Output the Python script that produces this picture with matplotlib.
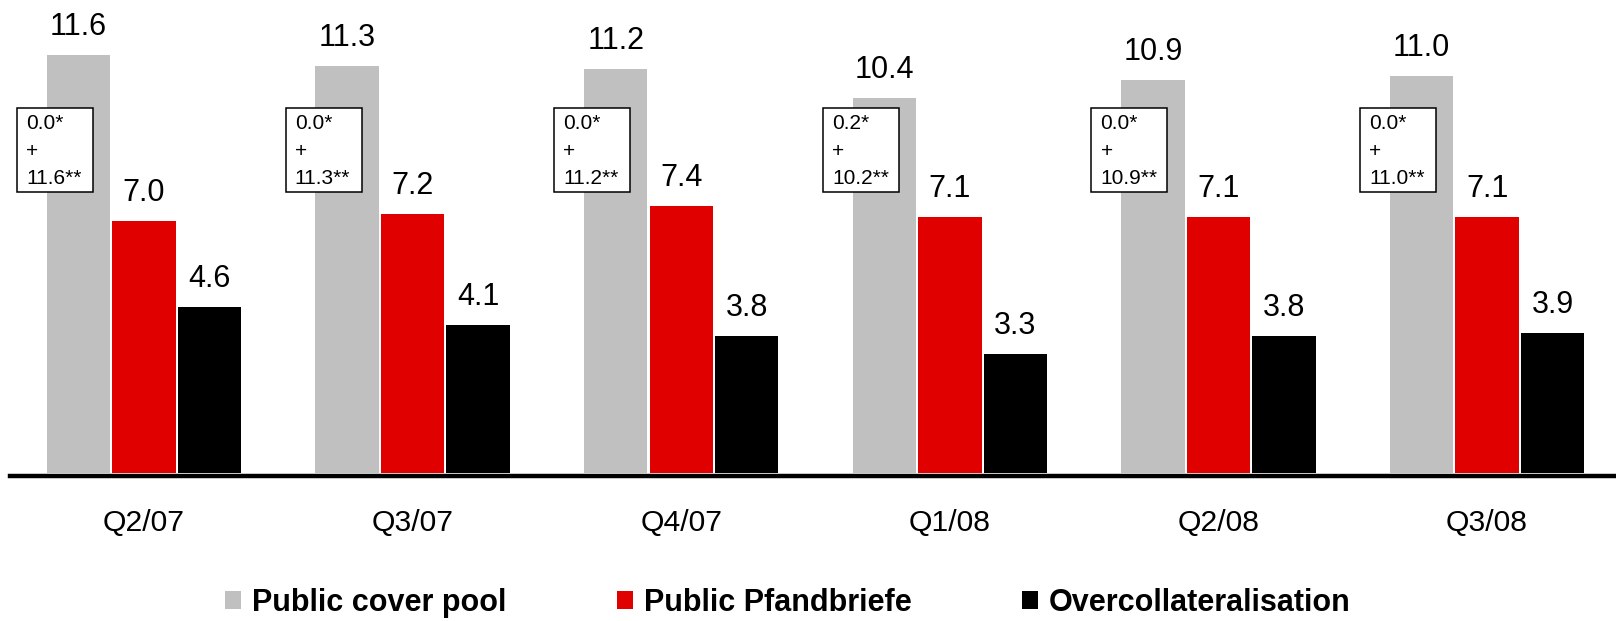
import matplotlib.pyplot as plt
import numpy as np
from matplotlib.patches import Rectangle, Patch

plt.rcParams['font.family'] = ['Liberation Sans', 'DejaVu Sans']

quarters = ['Q2/07', 'Q3/07', 'Q4/07', 'Q1/08', 'Q2/08', 'Q3/08']
cover_pool = [11.6, 11.3, 11.2, 10.4, 10.9, 11.0]
pfandbriefe = [7.0, 7.2, 7.4, 7.1, 7.1, 7.1]
overcollat = [4.6, 4.1, 3.8, 3.3, 3.8, 3.9]
star_vals = [0.0, 0.0, 0.0, 0.2, 0.0, 0.0]
dstar_vals = [11.6, 11.3, 11.2, 10.2, 10.9, 11.0]

series = ['Public cover pool', 'Public Pfandbriefe', 'Overcollateralisation']
colors = ['#C0C0C0', '#E10000', '#000000']

fig = plt.figure(figsize=(16.16, 6.21), dpi=100)
ax = fig.add_axes([10 / 1616, 1 - 475.5 / 621, 1 - 10 / 1616, 475.5 / 621])

x = np.arange(len(quarters))
w = 0.236
off = 0.2439
for i, (vals, col) in enumerate(zip([cover_pool, pfandbriefe, overcollat], colors)):
    pos = x + (i - 1) * off
    ax.bar(pos, vals, width=w, color=col, linewidth=0)
    for xp, v in zip(pos, vals):
        ax.text(xp, v + 0.554, f'{v:.1f}', ha='center', va='baseline', fontsize=22)

# boxes with split of the cover pool
for xi, s, d in zip(x, star_vals, dstar_vals):
    bx = xi - 0.473
    ax.add_patch(Rectangle((bx, 7.797), 0.283, 2.328, facecolor='white',
                           edgecolor='black', linewidth=1.1, zorder=3))
    ax.text(bx + 0.034, 9.96, f'{s:.1f}*\n+\n{d:.1f}**', ha='left', va='top',
            fontsize=15, linespacing=1.58, zorder=4)

ax.set_xlim(-0.499, 5.48)
ax.set_ylim(-0.061, 13.118)
ax.set_xticks(x)
ax.set_xticklabels(quarters, fontsize=21.7)
ax.tick_params(axis='x', length=0, pad=24)
ax.set_yticks([])
for sp in ['top', 'right', 'left']:
    ax.spines[sp].set_visible(False)
ax.spines['bottom'].set_linewidth(3.2)
ax.patch.set_alpha(0)

handles = [Patch(facecolor=c, edgecolor='none') for c in colors]
fig.legend(handles, series, loc='center left', bbox_to_anchor=(225 / 1616, 1 - 603 / 621),
           ncol=3, frameon=False, prop={'weight': 'bold', 'size': 22},
           handlelength=0.53, handleheight=0.5, handletextpad=0.36,
           columnspacing=3.6, borderpad=0, borderaxespad=0)

fig.savefig('out.png', dpi=100)
